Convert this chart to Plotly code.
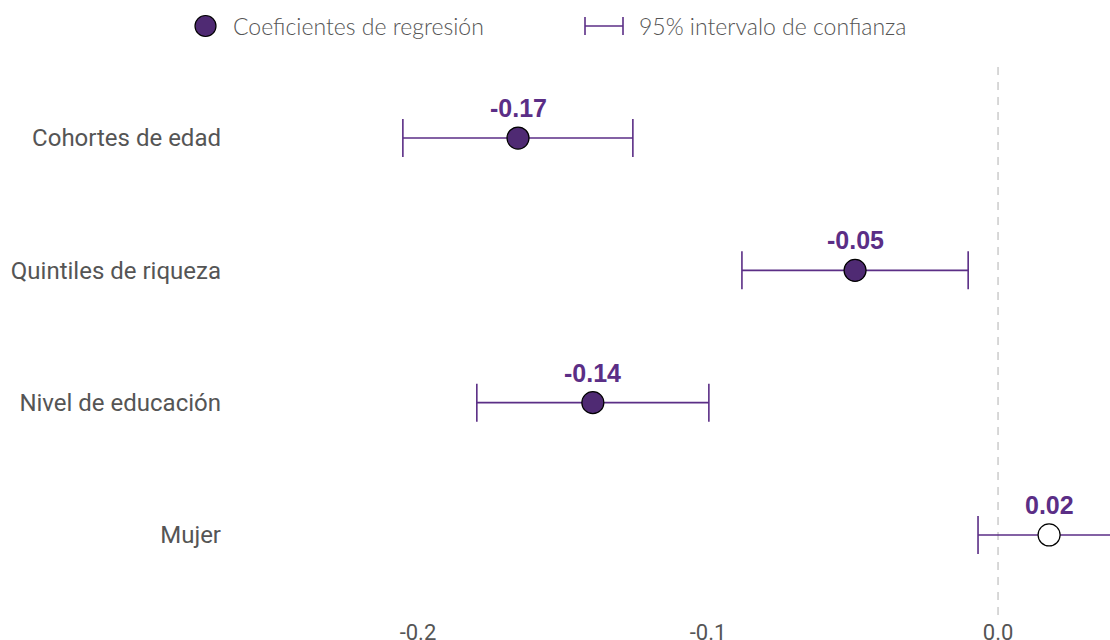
import plotly.graph_objects as go

categories = ["Mujer", "Nivel de educación", "Quintiles de riqueza", "Cohortes de edad"]
coef = [0.0176, -0.1397, -0.0493, -0.1655]
ci_low = [-0.0069, -0.1797, -0.0883, -0.2052]
ci_high = [0.0420, -0.0997, -0.0103, -0.1259]
labels = ["0.02", "-0.14", "-0.05", "-0.17"]
significant = [False, True, True, True]
x_ticks = [-0.2, -0.1, 0.0]
x_tick_text = ["-0.2", "-0.1", "0.0"]

PURPLE = "#4f2a73"
LINE = "#5b2e86"
TEXT = "#555555"

fig = go.Figure()

fig.add_trace(go.Scatter(
    x=coef, y=categories, mode="markers",
    marker=dict(size=22, color=[PURPLE if s else "white" for s in significant],
                line=dict(color="black", width=1.2)),
    error_x=dict(type="data", symmetric=False,
                 array=[h - c for h, c in zip(ci_high, coef)],
                 arrayminus=[c - l for c, l in zip(coef, ci_low)],
                 color=LINE, thickness=1.6, width=19),
    showlegend=False, cliponaxis=True, hoverinfo="skip",
))

for c, cat, lab in zip(coef, categories, labels):
    fig.add_annotation(x=c, y=cat, text=lab, showarrow=False, yshift=30,
                       font=dict(family="Liberation Sans, Arial", size=25, color=LINE, weight="bold"))

fig.add_shape(type="line", x0=0, x1=0, xref="x", yref="paper", y0=0, y1=1,
              line=dict(color="#cccccc", width=1.5, dash="8px,7px"), layer="below")

# custom legend (paper coordinates: x pixel = 230 + p*880)
def px(xp):
    return (xp - 230) / 880.0

def py(yp):
    return (615 - yp) / 555.0

fig.add_shape(type="circle", xref="paper", yref="paper",
              x0=px(195), x1=px(216), y0=py(36.5), y1=py(15.5),
              fillcolor=PURPLE, line=dict(color="black", width=1.2))
fig.add_annotation(xref="paper", yref="paper", x=px(231), y=py(26), xanchor="left", yanchor="middle",
                   text="Coeficientes de regresión", showarrow=False,
                   font=dict(family="Lato", size=23, color=TEXT, weight=300))
fig.add_shape(type="line", xref="paper", yref="paper", x0=px(585), x1=px(623), y0=py(26), y1=py(26),
              line=dict(color=LINE, width=1.6))
fig.add_shape(type="line", xref="paper", yref="paper", x0=px(585), x1=px(585), y0=py(17), y1=py(35),
              line=dict(color=LINE, width=1.6))
fig.add_shape(type="line", xref="paper", yref="paper", x0=px(623), x1=px(623), y0=py(17), y1=py(35),
              line=dict(color=LINE, width=1.6))
fig.add_annotation(xref="paper", yref="paper", x=px(637), y=py(26), xanchor="left", yanchor="middle",
                   text="95% intervalo de confianza", showarrow=False,
                   font=dict(family="Lato", size=23, color=TEXT, weight=300))

fig.update_layout(
    width=1110, height=640,
    margin=dict(l=230, r=0, t=60, b=25, autoexpand=False),
    plot_bgcolor="white", paper_bgcolor="white",
    xaxis=dict(range=[-0.2648, 0.0386], tickvals=x_ticks, ticktext=x_tick_text,
               showgrid=False, zeroline=False, showline=False, ticks="", automargin=False,
               tickfont=dict(family="Roboto", size=22, color=TEXT), ticklabelstandoff=2),
    yaxis=dict(type="category", categoryorder="array", categoryarray=categories,
               range=[-0.605, 3.59], showgrid=False, zeroline=False, showline=False, ticks="",
               automargin=False,
               tickfont=dict(family="Roboto", size=24, color=TEXT), ticklabelstandoff=8),
    showlegend=False,
)

fig.write_html("out.html")
